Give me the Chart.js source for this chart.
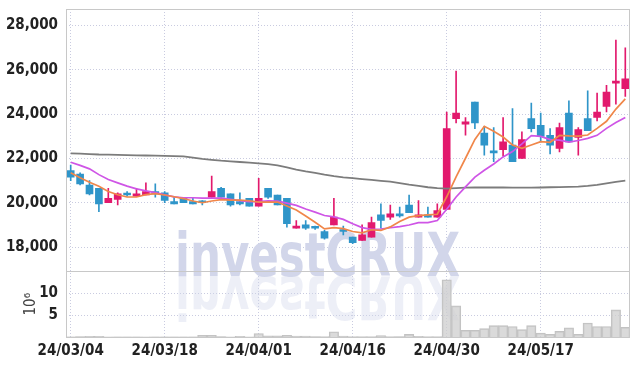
<!DOCTYPE html>
<html>
<head>
<meta charset="utf-8">
<script src="https://cdn.jsdelivr.net/npm/chart.js@4.4.1/dist/chart.umd.min.js"></script>
<style>
  html, body { margin: 0; padding: 0; background: #fff; }
  canvas { display: block; }
</style>
</head>
<body>
<canvas id="chart" width="639" height="366"></canvas>
<script>
// trading days (yy/mm/dd)
const dates = [
  '24/03/04','24/03/05','24/03/06','24/03/07','24/03/08','24/03/11','24/03/12','24/03/13','24/03/14','24/03/15',
  '24/03/18','24/03/19','24/03/20','24/03/21','24/03/22','24/03/25','24/03/26','24/03/27','24/03/28','24/03/29',
  '24/04/01','24/04/02','24/04/03','24/04/04','24/04/05','24/04/08','24/04/09','24/04/11','24/04/12','24/04/15',
  '24/04/16','24/04/17','24/04/18','24/04/19','24/04/22','24/04/23','24/04/24','24/04/25','24/04/26','24/04/29',
  '24/04/30','24/05/02','24/05/03','24/05/07','24/05/08','24/05/09','24/05/10','24/05/13','24/05/14','24/05/16',
  '24/05/17','24/05/20','24/05/21','24/05/22','24/05/23','24/05/24','24/05/27','24/05/28','24/05/29','24/05/30'
];

// OHLC
const opens = [
  21450,21300,20800,20650,20000,20150,20400,20300,20350,20500,
  20450,20050,20200,20050,20050,20250,20650,20400,20050,20200,
  19850,20650,20350,20200,18850,19000,18900,18700,19000,18750,
  18450,18300,18450,19450,19350,19500,19900,19350,19450,19350,
  19700,23800,23550,24550,23150,22350,22400,22600,22000,23800,
  23500,23050,22450,24050,22950,23800,23850,24350,25400,25150
];
const highs = [
  21700,21350,21000,20650,20650,20450,20500,20650,20900,20850,
  20500,20250,20250,20200,20100,21200,20700,20400,20450,20200,
  21100,20650,20350,20200,19200,19200,18950,18750,20200,18950,
  18450,19000,19350,19950,19900,19800,20350,20100,19800,19950,
  24100,25950,23850,24550,23450,23400,23850,24250,23200,24500,
  24050,23350,23600,24600,23400,25050,24950,25300,27350,27000
];
const lows = [
  21000,20800,20350,19600,20000,19900,20300,20300,20350,20250,
  20000,19950,20000,19950,19900,20250,20250,19850,19900,19850,
  19850,20200,19900,18900,18850,18800,18800,18350,19000,18550,
  18150,18300,18450,18850,19250,19350,19550,19350,19350,19350,
  19700,23600,23050,23350,22150,21850,22100,21850,22000,23200,
  22750,22200,22300,22750,22150,23250,23700,24100,24450,24800
];
const closes = [
  21150,20850,20400,19950,20200,20400,20350,20400,20500,20400,
  20100,19950,20000,19950,20000,20500,20250,19900,19950,19850,
  20200,20250,19900,19050,18950,18850,18850,18400,19350,18700,
  18200,18550,19100,19200,19500,19400,19550,19450,19350,19650,
  23350,24050,23650,23600,22600,22250,22750,21850,22850,23350,
  23000,22600,23400,22750,23300,23250,24100,25000,25500,25600
];

// moving averages
const ma5 = [
  21350,21130,20930,20750,20510,20360,20260,20260,20370,20410,
  20350,20270,20190,20080,20000,20080,20140,20120,20120,20090,
  20030,20030,20030,19850,19670,19400,19120,18820,18880,18830,
  18700,18640,18780,18750,18910,19150,19350,19420,19450,19480,
  20270,21170,22010,22860,23450,23230,22970,22610,22460,22610,
  22760,22730,23040,23020,23010,23060,23360,23680,24230,24690
];
const ma10 = [
  21830,21690,21530,21270,21050,20900,20750,20630,20540,20460,
  20355,20265,20225,20225,20205,20215,20205,20155,20100,20045,
  20055,20085,20075,19985,19880,19715,19575,19425,19365,19250,
  19050,18880,18800,18815,18870,18925,18995,19100,19100,19195,
  19710,20260,20715,21155,21465,21750,22070,22310,22660,23030,
  22995,22850,22825,22740,22810,22910,23045,23360,23625,23850
];
const maLong = [
  22230,22220,22200,22180,22170,22160,22150,22140,22135,22130,
  22120,22110,22090,22040,21980,21940,21900,21870,21840,21810,
  21780,21740,21690,21600,21500,21420,21350,21270,21200,21150,
  21110,21070,21030,20990,20950,20890,20820,20760,20700,20660,
  20640,20660,20680,20690,20690,20690,20690,20680,20680,20680,
  20690,20700,20710,20720,20730,20760,20810,20880,20940,21000
];

// volume, millions of shares
const volumes = [
  0.05,0.08,0.15,0.15,0.06,0.05,0.04,0.05,0.06,0.05,
  0.05,0.04,0.05,0.05,0.4,0.4,0.08,0.06,0.15,0.06,
  0.8,0.25,0.25,0.4,0.2,0.2,0.08,0.1,1.2,0.2,
  0.1,0.1,0.1,0.3,0.1,0.08,0.6,0.15,0.1,0.12,
  13.1,7.1,1.5,1.5,1.9,2.6,2.6,2.4,1.7,2.6,
  0.9,0.6,1.3,2.1,0.6,3.2,2.4,2.4,6.2,2.2
];

const priceTicks = [18000, 20000, 22000, 24000, 26000, 28000];
const volumeTicks = [5, 10];

const UP = '#e2196d';
const DOWN = '#2f95c9';
const candleColors = closes.map((c, i) => c >= opens[i] ? UP : DOWN);

const tickFont = { family: "'Liberation Sans Narrow', 'DejaVu Sans Condensed', sans-serif", size: 15, weight: 'bold' };
const gridColor = '#c9cbe0';

// y axes: fixed width, no extra padding for the edge labels
function fitLeftAxis(scale) {
    scale.width = 66;
    scale.paddingTop = 0;
    scale.paddingBottom = 0;
}

// frame around both panels + the line between them
const framePlugin = {
    id: 'frame',
    afterDatasetsDraw(chart) {
        const { ctx, chartArea: a } = chart;
        const sep = chart.scales.vol.top;
        ctx.save();
        ctx.strokeStyle = '#c8c8c8';
        ctx.lineWidth = 1;
        ctx.strokeRect(a.left + 0.5, a.top + 0.5, a.right - a.left - 1, a.bottom - a.top);
        ctx.beginPath();
        ctx.moveTo(a.left, Math.round(sep) + 0.5);
        ctx.lineTo(a.right, Math.round(sep) + 0.5);
        ctx.stroke();
        ctx.restore();
    }
};

// "investCRUX" watermark with its reflection
const watermarkPlugin = {
    id: 'watermark',
    beforeDatasetsDraw(chart) {
        const { ctx, chartArea: a } = chart;
        const text = 'investCRUX';
        ctx.save();
        ctx.beginPath();
        ctx.rect(a.left, a.top, a.right - a.left, a.bottom - a.top);
        ctx.clip();
        ctx.font = "bold 60px 'Liberation Sans Narrow', 'DejaVu Sans Condensed', sans-serif";
        const w = ctx.measureText(text).width;
        ctx.translate(a.left + 109, chart.scales.vol.top + 5);
        ctx.scale(285 / w, 1);
        ctx.fillStyle = '#d2d6ea';
        ctx.fillText(text, 0, 0);
        ctx.scale(1, -1);
        ctx.globalAlpha = 0.4;
        ctx.fillText(text, 0, 0);
        ctx.restore();
    }
};

new Chart(document.getElementById('chart'), {
    type: 'bar',
    data: {
        labels: dates,
        datasets: [
            { type: 'line', label: 'MA5', data: ma5, borderColor: '#f0874a', borderWidth: 1.7, pointRadius: 0, yAxisID: 'y', order: 0 },
            { type: 'line', label: 'MA10', data: ma10, borderColor: '#cf55e6', borderWidth: 1.7, pointRadius: 0, yAxisID: 'y', order: 0 },
            { type: 'line', label: 'MA long', data: maLong, borderColor: '#7c7c7c', borderWidth: 1.8, pointRadius: 0, yAxisID: 'y', order: 0 },
            {
                label: 'body', data: opens.map((o, i) => [o, closes[i]]), backgroundColor: candleColors,
                barThickness: 7, minBarLength: 2, grouped: false, yAxisID: 'y', order: 1
            },
            {
                label: 'wick', data: lows.map((l, i) => [l, highs[i]]), backgroundColor: candleColors,
                barThickness: 1, grouped: false, yAxisID: 'y', order: 2
            },
            {
                label: 'volume', data: volumes, backgroundColor: 'rgba(205,205,205,0.75)', borderColor: '#c2c2c2',
                borderWidth: 1, barPercentage: 1, categoryPercentage: 1, grouped: false, yAxisID: 'vol', order: 3
            }
        ]
    },
    options: {
        responsive: false,
        animation: false,
        layout: { padding: { top: 9, right: 9, left: 0, bottom: 0 } },
        plugins: { legend: { display: false }, tooltip: { enabled: false } },
        scales: {
            x: {
                offset: true,
                grid: { offset: false, color: gridColor, drawTicks: false },
                border: { display: false, dash: [1, 2] },
                ticks: {
                    autoSkip: false, maxRotation: 0, padding: 5, color: '#222', font: tickFont,
                    callback: function (value, index) {
                        return index % 10 === 0 ? this.getLabelForValue(value) : null;
                    }
                },
                afterFit: (scale) => { scale.height = 29; }
            },
            vol: {
                position: 'left', stack: 'panels', stackWeight: 1,
                min: 0, max: 15,
                afterBuildTicks: (scale) => { scale.ticks = volumeTicks.map(v => ({ value: v })); },
                grid: { color: gridColor, drawTicks: false },
                border: { display: false, dash: [1, 2] },
                title: { display: true, text: '10⁶', color: '#444', font: { family: tickFont.family, size: 15 }, padding: { top: 22, bottom: 0 } },
                ticks: { padding: 8, color: '#222', font: tickFont },
                afterFit: fitLeftAxis
            },
            y: {
                position: 'left', stack: 'panels', stackWeight: 4,
                min: 16900, max: 28750,
                afterBuildTicks: (scale) => { scale.ticks = priceTicks.map(v => ({ value: v })); },
                grid: { color: gridColor, drawTicks: false },
                border: { display: false, dash: [1, 2] },
                ticks: { padding: 8, color: '#222', font: tickFont, callback: v => v.toLocaleString('en-US') },
                afterFit: fitLeftAxis
            }
        }
    },
    plugins: [watermarkPlugin, framePlugin]
});
</script>
</body>
</html>
